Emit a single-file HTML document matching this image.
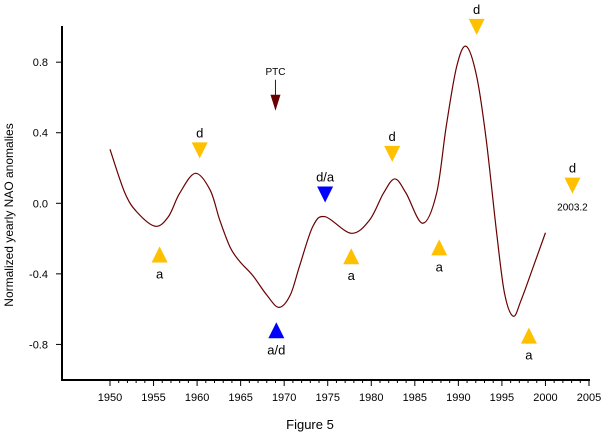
<!DOCTYPE html>
<html><head><meta charset="utf-8"><style>
html,body{margin:0;padding:0;background:#fff;}
svg{display:block;font-family:"Liberation Sans",Arial,sans-serif;}
</style></head><body>
<svg id="chart" width="608" height="435" viewBox="0 0 608 435" xmlns="http://www.w3.org/2000/svg">
<g id="axes"></g>
<path id="curve" fill="none" stroke="#6b0000" stroke-width="1.2"></path>
<g id="markers"></g>
<text x="10" y="215" transform="rotate(-90 10 215)" text-anchor="middle" dominant-baseline="middle" font-size="12">Normalized yearly NAO anomalies</text>
<text x="310" y="429" text-anchor="middle" font-size="13">Figure 5</text>
</svg>
<script>
const curveYears = [1950,1951.7,1953.1,1955.2,1956.7,1958,1959.8,1961.5,1962.6,1963.8,1964.9,1966.4,1968,1969.4,1970.7,1971.8,1973.3,1974.7,1977.7,1979.8,1981.4,1982.7,1984,1985.9,1987.5,1988.6,1989.8,1990.9,1992.1,1993.2,1994.4,1995.3,1996.3,1997.2,1998.6,2000];
const curveValues = [0.306,0.06,-0.05,-0.13,-0.076,0.057,0.17,0.075,-0.095,-0.25,-0.33,-0.41,-0.52,-0.59,-0.52,-0.35,-0.13,-0.076,-0.17,-0.095,0.057,0.138,0.057,-0.113,0.057,0.434,0.774,0.89,0.72,0.36,-0.17,-0.51,-0.64,-0.55,-0.36,-0.167];
const xTicks = [1950,1955,1960,1965,1970,1975,1980,1985,1990,1995,2000,2005];
const yTicks = [0.8,0.4,0.0,-0.4,-0.8];
const yTickLabels = ["0.8","0.4","0.0","-0.4","-0.8"];
const markerYears = [1955.7,1960.3,1969.1,1974.7,1977.7,1982.4,1987.8,1992.1,1998.1,2003.1];
const markerValues = [-0.29,0.30,-0.72,0.05,-0.30,0.28,-0.25,1.0,-0.75,0.10];
const markerDirs = ["up","down","up","down","up","down","up","down","up","down"];
const markerColors = ["#ffc000","#ffc000","#0000ff","#0000ff","#ffc000","#ffc000","#ffc000","#ffc000","#ffc000","#ffc000"];
const markerLabels = ["a","d","a/d","d/a","a","d","a","d","a","d"];
const ptcYear = 1969, ptcValue = 0.57;

const NS="http://www.w3.org/2000/svg";
const X0=62, X1=590, AXY=380, YTOP=26;
function xs(yr){return 110+(yr-1950)*(589-110)/55;}
function ys(v){return 203.3-v*176.4;}
function mk(tag,attrs,parent){const e=document.createElementNS(NS,tag);for(const k in attrs)e.setAttribute(k,attrs[k]);parent.appendChild(e);return e;}

const axes=document.getElementById('axes');
let yl=mk('line',{x1:X0,y1:YTOP,x2:X0,y2:AXY+1,stroke:'#000','stroke-width':2},axes);


let xl=mk('line',{x1:X0-1,y1:AXY,x2:X1,y2:AXY,stroke:'#000','stroke-width':2},axes);


for(let yr=1950;yr<=2005;yr++){
  const major=(yr%5===0);
  let t=mk('line',{x1:xs(yr),y1:AXY,x2:xs(yr),y2:AXY+(major?6:3),stroke:'#000','stroke-width':1},axes);
  
  
}
xTicks.forEach(yr=>{
  let t=mk('text',{x:xs(yr),y:401,'text-anchor':'middle','font-size':11},axes);
  t.textContent=yr;
  
  
});
yTicks.forEach((v,i)=>{
  let t=mk('line',{x1:X0-6,y1:ys(v),x2:X0,y2:ys(v),stroke:'#000','stroke-width':1},axes);
  
  
  let l=mk('text',{x:48,y:ys(v)+4,'text-anchor':'end','font-size':11},axes);
  l.textContent=yTickLabels[i];
  
  
});

// smooth curve (Catmull-Rom)
const pts=curveYears.map((y,i)=>[xs(y),ys(curveValues[i])]);
let d='M'+pts[0][0]+','+pts[0][1];
for(let i=0;i<pts.length-1;i++){
  const p0=pts[Math.max(0,i-1)],p1=pts[i],p2=pts[i+1],p3=pts[Math.min(pts.length-1,i+2)];
  d+=' C'+(p1[0]+(p2[0]-p0[0])/6)+','+(p1[1]+(p2[1]-p0[1])/6)+' '+(p2[0]-(p3[0]-p1[0])/6)+','+(p2[1]-(p3[1]-p1[1])/6)+' '+p2[0]+','+p2[1];
}
document.getElementById('curve').setAttribute('d',d);

const mg=document.getElementById('markers');
markerYears.forEach((yr,i)=>{
  const cx=xs(yr), cy=ys(markerValues[i]);
  const up=markerDirs[i]==='up';
  const pts=up?`${cx-8},${cy+8} ${cx+8},${cy+8} ${cx},${cy-8}`:`${cx-8},${cy-8} ${cx+8},${cy-8} ${cx},${cy+8}`;
  let p=mk('polygon',{points:pts,fill:markerColors[i]},mg);
  
  
  let t=mk('text',{x:cx,y:up?cy+24:cy-13,'text-anchor':'middle','font-size':13},mg);
  t.textContent=markerLabels[i];
  
  
});
// 2003.2 annotation
{
  const cx=xs(2003.1), cy=ys(0.10);
  let t=mk('text',{x:cx,y:cy+25,'text-anchor':'middle','font-size':10},mg);
  t.textContent='2003.2';
  
  
}
// PTC arrow
{
  const cx=xs(ptcYear), cy=ys(ptcValue);
  let l=mk('line',{x1:cx,y1:cy-23,x2:cx,y2:cy,stroke:'#6b0000','stroke-width':1},mg);
  
  
  let p=mk('polygon',{points:`${cx-5},${cy-8} ${cx+5},${cy-8} ${cx},${cy+8}`,fill:'#6b0000'},mg);
  
  
  let t=mk('text',{x:cx,y:cy-28,'text-anchor':'middle','font-size':10},mg);
  t.textContent='PTC';
  
  
}
</script>
</body></html>
